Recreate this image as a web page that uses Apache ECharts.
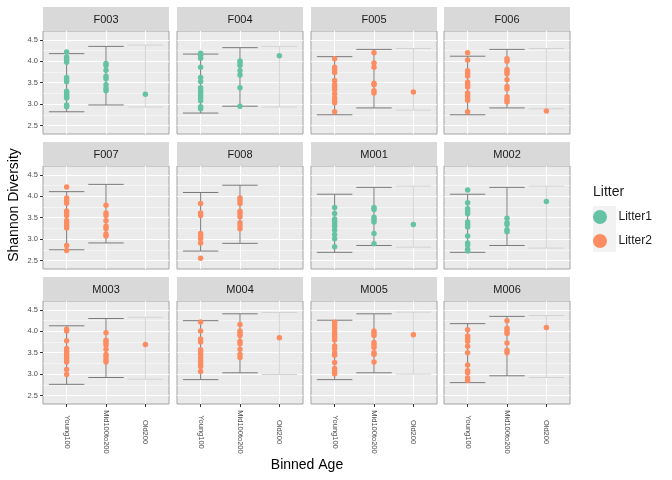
<!DOCTYPE html>
<html lang="en">
<head>
    <meta charset="UTF-8">
    <title>Shannon Diversity by Binned Age</title>
    <style type="text/css">
        * { margin: 0; padding: 0; }
        html, body { width: 100%; height: 100%; background: #fff; }
        #main { width: 672px; height: 480px; }
    </style>
</head>
<body>
<div id="main"></div>
<script src="https://cdn.jsdelivr.net/npm/echarts@6/dist/echarts.min.js"></script>
<script>
    // ---- data ----
    var panels = ['F003', 'F004', 'F005', 'F006', 'F007', 'F008', 'M001', 'M002', 'M003', 'M004', 'M005', 'M006'];
    var panelLitter = ['Litter1', 'Litter1', 'Litter2', 'Litter2', 'Litter2', 'Litter2', 'Litter1', 'Litter1', 'Litter2', 'Litter2', 'Litter2', 'Litter2'];
    var ageBins = ['Young100', 'Mid100to200', 'Old200'];
    var yTicks = [2.5, 3.0, 3.5, 4.0, 4.5];
    var yMinor = [2.75, 3.25, 3.75, 4.25];

    var youngVals = [
        [4.22, 4.10, 4.06, 4.02, 3.98, 3.62, 3.57, 3.52, 3.30, 3.26, 3.22, 3.18, 3.14, 2.98, 2.94],
        [4.19, 4.14, 4.07, 3.86, 3.62, 3.53, 3.38, 3.32, 3.26, 3.20, 3.14, 3.08, 2.94, 2.89],
        [4.06, 3.86, 3.80, 3.74, 3.55, 3.45, 3.40, 3.34, 3.24, 3.14, 3.08, 3.03, 2.82],
        [4.20, 4.03, 3.78, 3.72, 3.66, 3.51, 3.45, 3.40, 3.26, 3.20, 3.14, 3.09, 2.82],
        [4.22, 3.96, 3.90, 3.84, 3.66, 3.61, 3.55, 3.43, 3.38, 3.32, 3.26, 2.85, 2.73],
        [3.83, 3.61, 3.55, 3.13, 3.07, 3.01, 2.91, 2.55],
        [3.74, 3.60, 3.47, 3.41, 3.35, 3.30, 3.21, 3.11, 3.01, 2.82],
        [4.15, 3.85, 3.71, 3.65, 3.59, 3.40, 3.34, 3.28, 3.07, 2.91, 2.86, 2.76, 2.72],
        [4.05, 4.01, 3.78, 3.60, 3.54, 3.50, 3.44, 3.39, 3.33, 3.28, 3.11, 2.99],
        [4.22, 4.01, 3.82, 3.75, 3.57, 3.52, 3.46, 3.38, 3.32, 3.25, 3.18, 3.06],
        [4.21, 4.15, 4.08, 3.99, 3.93, 3.87, 3.80, 3.66, 3.60, 3.50, 3.44, 3.27, 3.13, 3.06, 3.01],
        [4.04, 3.89, 3.83, 3.77, 3.65, 3.50, 3.21, 3.08, 3.03, 2.91, 2.85]
    ];
    var midVals = [
        [3.95, 3.90, 3.79, 3.65, 3.59, 3.45, 3.37, 3.31],
        [4.01, 3.96, 3.90, 3.78, 3.68, 3.38, 2.95],
        [4.20, 3.96, 3.86, 3.49, 3.45, 3.31, 3.26],
        [4.06, 4.00, 3.81, 3.76, 3.71, 3.57, 3.41, 3.35, 3.17, 3.11, 3.05],
        [3.79, 3.61, 3.55, 3.43, 3.30, 3.24, 3.12, 3.07],
        [3.96, 3.90, 3.83, 3.65, 3.59, 3.52, 3.38, 3.31, 3.24],
        [3.74, 3.69, 3.51, 3.45, 3.40, 3.13, 2.89],
        [3.49, 3.38, 3.34, 3.22, 3.17],
        [3.97, 3.79, 3.74, 3.68, 3.58, 3.46, 3.40, 3.33, 3.28],
        [4.16, 4.01, 3.95, 3.90, 3.77, 3.71, 3.58, 3.46, 3.39],
        [4.01, 3.95, 3.90, 3.74, 3.68, 3.62, 3.50, 3.46, 3.28],
        [4.25, 4.07, 4.01, 3.95, 3.73, 3.56, 3.50]
    ];
    var oldVals = [[3.23], [4.13], [3.28], [2.84], [], [], [3.34], [3.88], [3.69], [3.85], [3.92], [4.09]];

    // error bar ends per panel: [Young100, Mid100to200, Old200]
    var barLow = [
        [2.82, 2.98, 2.93], [2.79, 2.95, 2.93], [2.75, 2.91, 2.86], [2.75, 2.91, 2.89],
        [2.75, 2.91, null], [2.72, 2.90, null], [2.69, 2.85, 2.81], [2.69, 2.85, 2.79],
        [2.76, 2.92, 2.88], [2.87, 3.03, 2.99], [2.87, 3.03, 3.00], [2.80, 2.96, 2.92]
    ];
    var barHigh = [
        [4.18, 4.35, 4.38], [4.17, 4.32, 4.35], [4.11, 4.28, 4.30], [4.12, 4.28, 4.30],
        [4.11, 4.28, null], [4.09, 4.26, null], [4.05, 4.21, 4.24], [4.05, 4.21, 4.24],
        [4.13, 4.30, 4.33], [4.25, 4.41, 4.44], [4.26, 4.41, 4.45], [4.18, 4.35, 4.37]
    ];

    var litterColors = {Litter1: '#66c2a5', Litter2: '#fc8d62'};
    var FONT = 'Liberation Sans';

    // ---- layout ----
    var colLeft = [43, 177, 311, 444];
    var stripTop = [7, 142, 277];
    var panelW = 126, stripH = 24, panelH = 103;

    var myChart = echarts.init(document.getElementById('main'));

    var grids = [], xAxes = [], yAxes = [], series = [], graphics = [];

    for (var i = 0; i < panels.length; i++) {
        var row = Math.floor(i / 4), col = i % 4;
        var pLeft = colLeft[col], pTop = stripTop[row] + stripH;

        grids.push({
            left: pLeft, top: pTop, width: panelW, height: panelH,
            show: true, backgroundColor: '#ebebeb', borderColor: '#a3a3a3', borderWidth: 1
        });

        xAxes.push({
            type: 'value', gridIndex: i, min: 0.4, max: 3.6,
            axisLine: {show: false},
            axisTick: {show: row === 2, length: 3, customValues: [1, 2, 3], lineStyle: {color: '#333'}},
            axisLabel: {
                show: row === 2, customValues: [1, 2, 3], rotate: -90, align: 'center', verticalAlign: 'middle',
                margin: 28, fontSize: 7.5, fontFamily: FONT, color: '#4d4d4d',
                formatter: function (v) { return ageBins[Math.round(v) - 1]; }
            },
            splitLine: {show: true, lineStyle: {color: '#fff', width: 1.1}}
        });

        yAxes.push({
            type: 'value', gridIndex: i, min: 2.3, max: 4.71,
            axisLine: {show: false},
            axisTick: {show: col === 0, length: 3, customValues: yTicks, lineStyle: {color: '#333'}},
            axisLabel: {
                show: col === 0, customValues: yTicks, margin: 5, fontSize: 7.5, fontFamily: FONT, color: '#4d4d4d',
                formatter: function (v) { return v.toFixed(1); }
            },
            splitLine: {show: true, lineStyle: {color: '#fff', width: 1.1}}
        });

        // facet strip
        graphics.push({
            type: 'rect', shape: {x: pLeft, y: stripTop[row], width: panelW, height: stripH},
            style: {fill: '#d9d9d9'}, silent: true
        });
        graphics.push({
            type: 'text', x: pLeft + panelW / 2, y: stripTop[row] + stripH / 2 + 1,
            style: {text: panels[i], fontSize: 11, fontFamily: FONT, fill: '#1a1a1a', align: 'center', verticalAlign: 'middle'},
            silent: true
        });

        // error bars
        var bars = [];
        for (var b = 0; b < ageBins.length; b++) {
            if (barLow[i][b] != null) bars.push([b + 1, barLow[i][b], barHigh[i][b]]);
        }
        series.push({
            type: 'custom', xAxisIndex: i, yAxisIndex: i, z: 2, silent: true,
            data: bars,
            renderItem: function (params, api) {
                var x = api.value(0), lo = api.value(1), hi = api.value(2);
                var stroke = x === 3 ? '#d3d3d3' : '#7a7a7a';
                var p1 = api.coord([x - 0.45, hi]), p2 = api.coord([x + 0.45, hi]);
                var p3 = api.coord([x - 0.45, lo]), p4 = api.coord([x + 0.45, lo]);
                var s = {stroke: stroke, lineWidth: 1};
                return {
                    type: 'group', children: [
                        {type: 'line', shape: {x1: p1[0], y1: p1[1], x2: p2[0], y2: p2[1]}, style: s},
                        {type: 'line', shape: {x1: p3[0], y1: p3[1], x2: p4[0], y2: p4[1]}, style: s},
                        {type: 'line', shape: {x1: (p1[0] + p2[0]) / 2, y1: p1[1], x2: (p3[0] + p4[0]) / 2, y2: p3[1]}, style: s}
                    ]
                };
            },
            markLine: {
                silent: true, symbol: 'none', z: 1, animation: false,
                label: {show: false},
                lineStyle: {color: '#fff', width: 0.5, type: 'solid'},
                data: yMinor.map(function (v) { return {yAxis: v}; })
            }
        });

        // points
        var pts = [];
        youngVals[i].forEach(function (v) { pts.push([1, v]); });
        midVals[i].forEach(function (v) { pts.push([2, v]); });
        oldVals[i].forEach(function (v) { pts.push([3, v]); });
        series.push({
            type: 'scatter', name: panelLitter[i], xAxisIndex: i, yAxisIndex: i, z: 3,
            symbolSize: 5.5, itemStyle: {color: litterColors[panelLitter[i]], opacity: 1},
            data: pts
        });
    }

    // legend key background
    graphics.push({type: 'rect', shape: {x: 593, y: 206, width: 23, height: 46}, style: {fill: '#f2f2f2'}, silent: true, z: -1});
    graphics.push({
        type: 'text', x: 593, y: 192,
        style: {text: 'Litter', fontSize: 14, fontFamily: FONT, fill: '#1a1a1a', verticalAlign: 'middle'}
    });
    // axis titles
    graphics.push({
        type: 'text', x: 14, y: 205, rotation: Math.PI / 2,
        style: {text: 'Shannon Diversity', fontSize: 14, fontFamily: FONT, fill: '#000', align: 'center', verticalAlign: 'middle'}
    });
    graphics.push({
        type: 'text', x: 307, y: 465,
        style: {text: 'Binned Age', fontSize: 14, fontFamily: FONT, fill: '#000', align: 'center', verticalAlign: 'middle'}
    });

    var option = {
        animation: false,
        backgroundColor: '#fff',
        grid: grids,
        xAxis: xAxes,
        yAxis: yAxes,
        legend: {
            data: [{name: 'Litter1', icon: 'circle'}, {name: 'Litter2', icon: 'circle'}],
            orient: 'vertical', left: 593, top: 210, padding: 0,
            itemWidth: 23, itemHeight: 14, itemGap: 10,
            textStyle: {fontSize: 12, fontFamily: FONT, color: '#1a1a1a', padding: [0, 0, 0, 2]},
            selectedMode: false
        },
        graphic: graphics,
        series: series
    };

    myChart.setOption(option);
</script>
</body>
</html>
